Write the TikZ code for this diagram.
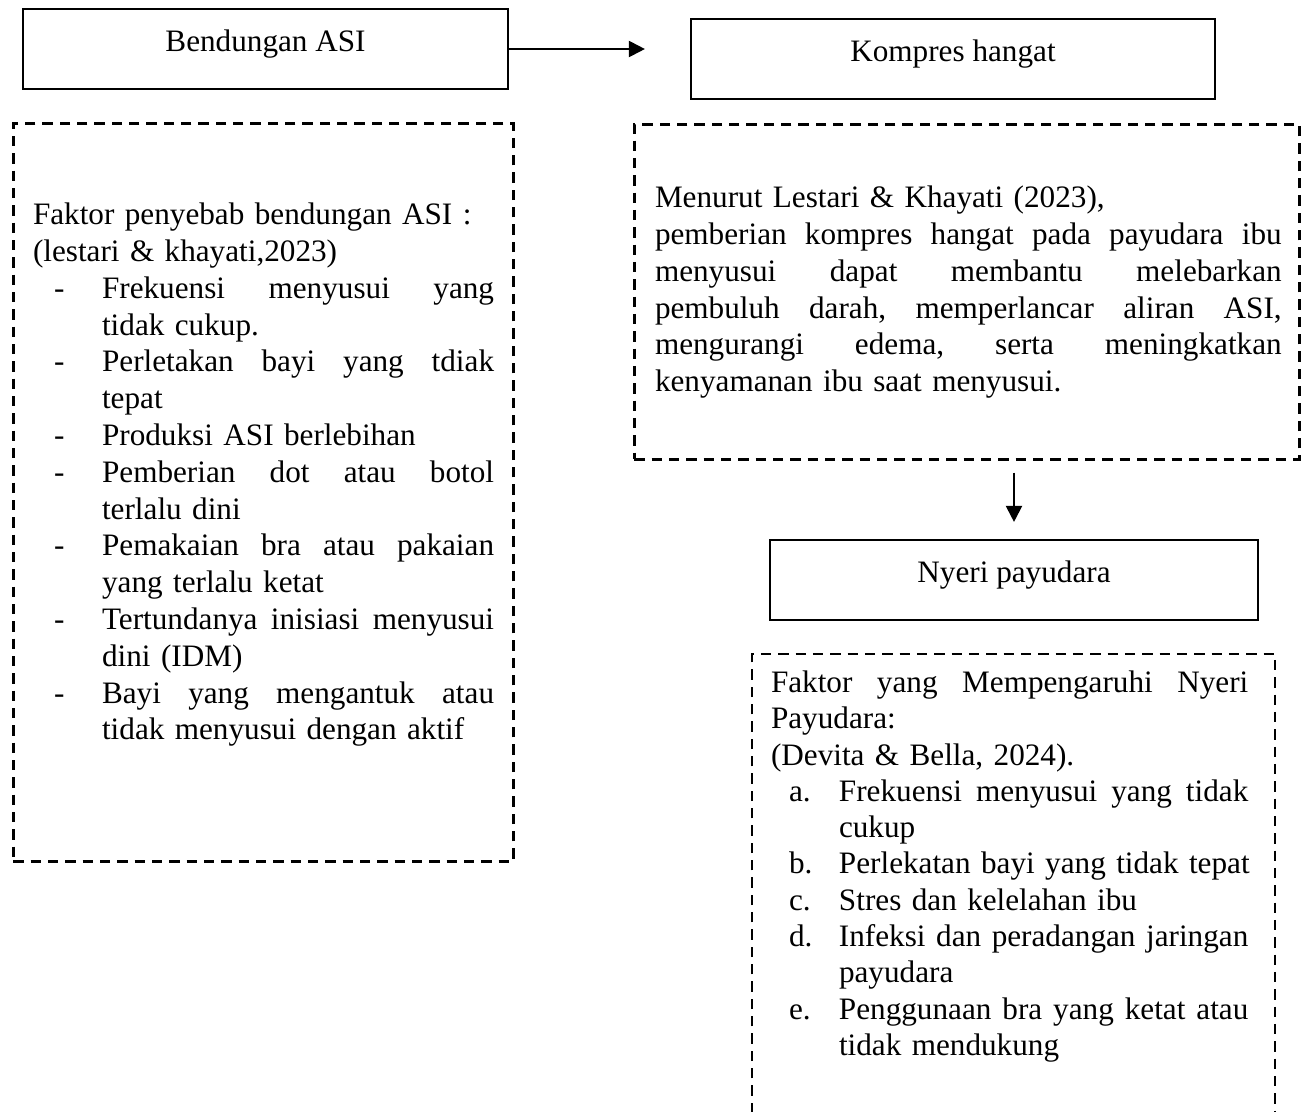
\documentclass[tikz,border=0pt]{standalone}
\usepackage{fontspec}
\setmainfont{Liberation Serif}
\usetikzlibrary{arrows.meta, positioning}

\newcommand{\jfill}[2]{\leavevmode\hbox to #1{\frenchspacing\spaceskip=.25em plus 1fil\relax #2}}
\newcommand{\dashlbl}{\makebox[25.9pt][l]{\hspace*{7.9pt}-}}
\newcommand{\listindent}{\hspace*{25.9pt}}
\newcommand{\alphlbl}[1]{\makebox[25.5pt][l]{\hspace*{6.75pt}#1}}
\newcommand{\alphindent}{\hspace*{25.5pt}}

\begin{document}
\begin{tikzpicture}[x=0.375pt, y=-0.375pt, line width=0.75pt,
    >={Triangle[length=6pt, width=6pt]},
    box/.style={draw, anchor=north west, inner sep=0pt, text height=15.75pt, text depth=14.25pt,
      font=\fontsize{11.7}{13.8}\selectfont},
    note/.style={draw, dashed, dash pattern=on 3.9pt off 2.6pt, line width=1pt, anchor=north west, inner sep=0pt},
    noteborder/.style={dashed, dash pattern=on 3.9pt off 2.6pt, line width=1pt},
    notetext/.style={anchor=north west, inner sep=0pt, align=left, font=\fontsize{11.7}{13.8}\selectfont}]
  \useasboundingbox (0,0) rectangle (1306,1111);

  \node[box, minimum width=181.9pt] (bendungan) at (22,8) {Bendungan ASI};
  \node[box, minimum width=196.5pt] (kompres) at (690,18) {Kompres hangat};
  \node[box, minimum width=183pt] (nyeri) at (769,539) {Nyeri payudara};

  \node[note, minimum width=187.5pt, minimum height=276.75pt] (faktorasi) at (12,122) {};
  \node[note, minimum width=249.4pt, minimum height=125.6pt] (menurut) at (633,123) {};
  \node[anchor=north west, inner sep=0pt, minimum width=195.4pt, minimum height=171.4pt] (faktornyeri) at (752,654) {};
  \draw[noteborder] (faktornyeri.south west) |- (faktornyeri.north east) -- (faktornyeri.south east);

  \node[notetext, text width=174pt] (faktorasitext) at (32,202) {%
    Faktor penyebab bendungan ASI :\\
    (lestari \& khayati,2023)\\
    \dashlbl\jfill{147pt}{Frekuensi menyusui yang}\\
    \listindent tidak cukup.\\
    \dashlbl\jfill{147pt}{Perletakan bayi yang tdiak}\\
    \listindent tepat\\
    \dashlbl Produksi ASI berlebihan\\
    \dashlbl\jfill{147pt}{Pemberian dot atau botol}\\
    \listindent terlalu dini\\
    \dashlbl\jfill{147pt}{Pemakaian bra atau pakaian}\\
    \listindent yang terlalu ketat\\
    \dashlbl\jfill{147pt}{Tertundanya inisiasi menyusui}\\
    \listindent dini (IDM)\\
    \dashlbl\jfill{147pt}{Bayi yang mengantuk atau}\\
    \listindent tidak menyusui dengan aktif};

  \node[notetext, text width=236pt] (menuruttext) at (654,185) {%
    Menurut Lestari \& Khayati (2023),\\
    \jfill{235pt}{pemberian kompres hangat pada payudara ibu}\\
    \jfill{235pt}{menyusui dapat membantu melebarkan}\\
    \jfill{235pt}{pembuluh darah, memperlancar aliran ASI,}\\
    \jfill{235pt}{mengurangi edema, serta meningkatkan}\\
    kenyamanan ibu saat menyusui.};

  \node[notetext, text width=182pt, font=\fontsize{11.7}{13.6}\selectfont] (faktornyeritext) at (770,670) {%
    \jfill{179pt}{Faktor yang Mempengaruhi Nyeri}\\
    Payudara:\\
    (Devita \& Bella, 2024).\\
    \alphlbl{a.}\jfill{153.5pt}{Frekuensi menyusui yang tidak}\\
    \alphindent cukup\\
    \alphlbl{b.}Perlekatan bayi yang tidak tepat\\
    \alphlbl{c.}Stres dan kelelahan ibu\\
    \alphlbl{d.}\jfill{153.5pt}{Infeksi dan peradangan jaringan}\\
    \alphindent payudara\\
    \alphlbl{e.}\jfill{153.5pt}{Penggunaan bra yang ketat atau}\\
    \alphindent tidak mendukung};

  \draw[->, shorten >=16.9pt] (bendungan.east) -- (bendungan.east -| kompres.west);
  \draw[->, shorten <=4.5pt, shorten >=6.4pt] (menurut.south -| nyeri.north) -- (nyeri.north);
\end{tikzpicture}
\end{document}
